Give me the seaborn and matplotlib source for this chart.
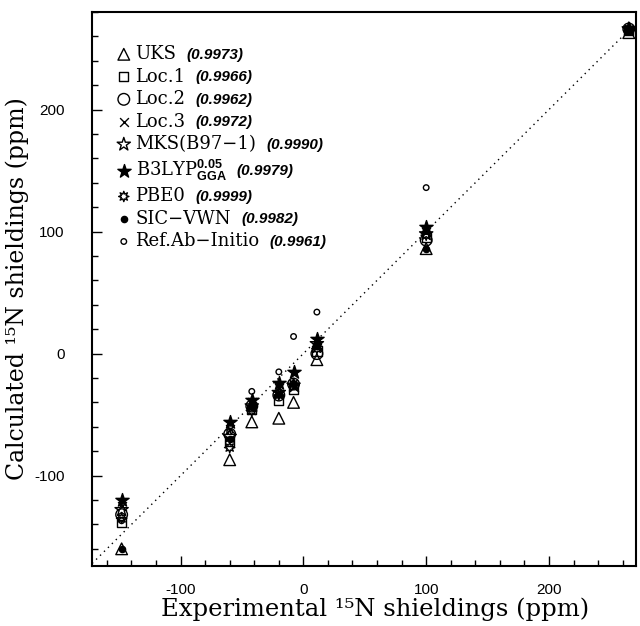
import numpy as np
import pandas as pd
import matplotlib
matplotlib.use("Agg")
import matplotlib.pyplot as plt
import seaborn as sns

sns.set_theme(style="ticks")
plt.rcParams["font.family"] = ["DejaVu Serif"]
plt.rcParams["axes.unicode_minus"] = False
plt.rcParams["mathtext.fontset"] = "custom"
plt.rcParams["mathtext.rm"] = "Liberation Sans:bold"
plt.rcParams["mathtext.bf"] = "Liberation Sans:bold"
for key in ["text.color", "axes.labelcolor", "xtick.color", "ytick.color",
            "axes.edgecolor", "xtick.labelcolor", "ytick.labelcolor"]:
    plt.rcParams[key] = "black"

# Experimental shieldings (ppm)
experimental = [-148, -60, -42, -20, -8, 11, 100, 265]

methods = ["UKS", "Loc.1", "Loc.2", "Loc.3", "MKS(B97\u22121)",
           "B3LYP", "PBE0", "SIC\u2212VWN", "Ref.Ab\u2212Initio"]
correlations = ["0.9973", "0.9966", "0.9962", "0.9972", "0.9990",
                "0.9979", "0.9999", "0.9982", "0.9961"]

uks      = [-160, -87, -56, -53, -40, -5, 86, 263]
loc1     = [-138, -72, -46, -38, -29, 2, 95, 265]
loc2     = [-132, -66, -43, -34, -25, 0, 93, 266]
loc3     = [-125, -62, -40, -28, -27, 5, 100, 266]
mks      = [-128, -68, -43, -32, -26, 8, 98, 266]
b3lyp    = [-120, -56, -38, -24, -15, 12, 104, 266]
pbe0     = [-135, -77, -47, -34, -25, 4, 97, 265]
sicvwn   = [-160, -70, -44, -33, -25, 6, 86, 266]
refab    = [-137, -64, -31, -15, 14, 34, 136, 267]

series = [uks, loc1, loc2, loc3, mks, b3lyp, pbe0, sicvwn, refab]

rows = []
for m, vals in zip(methods, series):
    for e, c in zip(experimental, vals):
        rows.append({"method": m, "exp": e, "calc": c})
df = pd.DataFrame(rows)

styles = {
    "UKS": dict(marker="^", s=70, open=True),
    "Loc.1": dict(marker="s", s=45, open=True),
    "Loc.2": dict(marker="o", s=70, open=True),
    "Loc.3": dict(marker="x", s=40, open=False),
    "MKS(B97\u22121)": dict(marker="*", s=100, open=True),
    "B3LYP": dict(marker="*", s=100, open=False),
    "PBE0": dict(marker=(8, 1, 0), s=55, open=True),
    "SIC\u2212VWN": dict(marker="o", s=20, open=False),
    "Ref.Ab\u2212Initio": dict(marker="o", s=16, open=True),
}

fig, ax = plt.subplots(figsize=(6.4, 6.26), dpi=100)
fig.subplots_adjust(left=0.144, right=0.994, top=0.981, bottom=0.096)

ax.axline((0, 0), slope=1, color="black", ls=(0, (1, 3)), lw=1.0, zorder=1)

handles = []
for m in methods:
    st = styles[m]
    sub = df[df["method"] == m]
    n_before = len(ax.collections)
    sns.scatterplot(data=sub, x="exp", y="calc", marker=st["marker"], s=st["s"],
                    color="black", ax=ax, legend=False, zorder=3)
    coll = ax.collections[n_before]
    coll.set_facecolor("none" if st["open"] else "black")
    coll.set_edgecolor("black")
    coll.set_linewidth(1.0)
    handles.append(coll)

labels = []
for m in methods:
    if m == "B3LYP":
        labels.append(r"B3LYP$^{0.05}_{\mathrm{GGA}}$")
    else:
        labels.append(m)

leg = ax.legend(handles, labels, loc="upper left", bbox_to_anchor=(0.015, 0.963),
                frameon=False, handletextpad=0.05, labelspacing=0.25,
                fontsize=13, borderaxespad=0.3, handlelength=1.2)

ax.set_xlim(-172, 271)
ax.set_ylim(-174, 280)
ax.set_xticks([-100, 0, 100, 200])
ax.set_yticks([-100, 0, 100, 200])
ax.set_xticks(np.arange(-160, 271, 20), minor=True)
ax.set_yticks(np.arange(-160, 281, 20), minor=True)
ax.tick_params(which="major", direction="in", length=7, width=1, labelsize=11)
ax.tick_params(which="minor", direction="in", length=4, width=1)
ax.tick_params(axis="x", which="major", pad=12)
ax.tick_params(axis="y", which="major", pad=20)
for lab in ax.get_xticklabels() + ax.get_yticklabels():
    lab.set_fontfamily("Liberation Sans")

for sp in ax.spines.values():
    sp.set_linewidth(1.5)
    sp.set_color("black")
    sp.set_visible(True)

ax.set_xlabel("Experimental \u00b9\u2075N shieldings (ppm)", fontsize=17.5)
ax.set_ylabel("Calculated \u00b9\u2075N shieldings (ppm)", fontsize=17)
ax.xaxis.set_label_coords(0.52, -0.057)
ax.yaxis.set_label_coords(-0.116, 0.5)

# correlation coefficients placed right of each legend label
fig.canvas.draw()
inv = ax.transAxes.inverted()
texts = leg.get_texts()
descent = 0.236 * 13 * 100 / 72.0
baselines = []
rights = []
for t in texts:
    bb = t.get_window_extent()
    baselines.append(bb.y0 + descent)
    rights.append(bb.x1)
ib = methods.index("B3LYP")
baselines[ib] = 0.5 * (baselines[ib - 1] + baselines[ib + 1])
for x1, yb, r in zip(rights, baselines, correlations):
    xa, ya = inv.transform((x1 + 10, yb))
    ax.text(xa, ya, "(" + r + ")", transform=ax.transAxes,
            va="baseline", ha="left", fontsize=11, fontstyle="italic",
            fontweight="bold", family="Liberation Sans", color="black")

fig.savefig("out.png", dpi=100)
